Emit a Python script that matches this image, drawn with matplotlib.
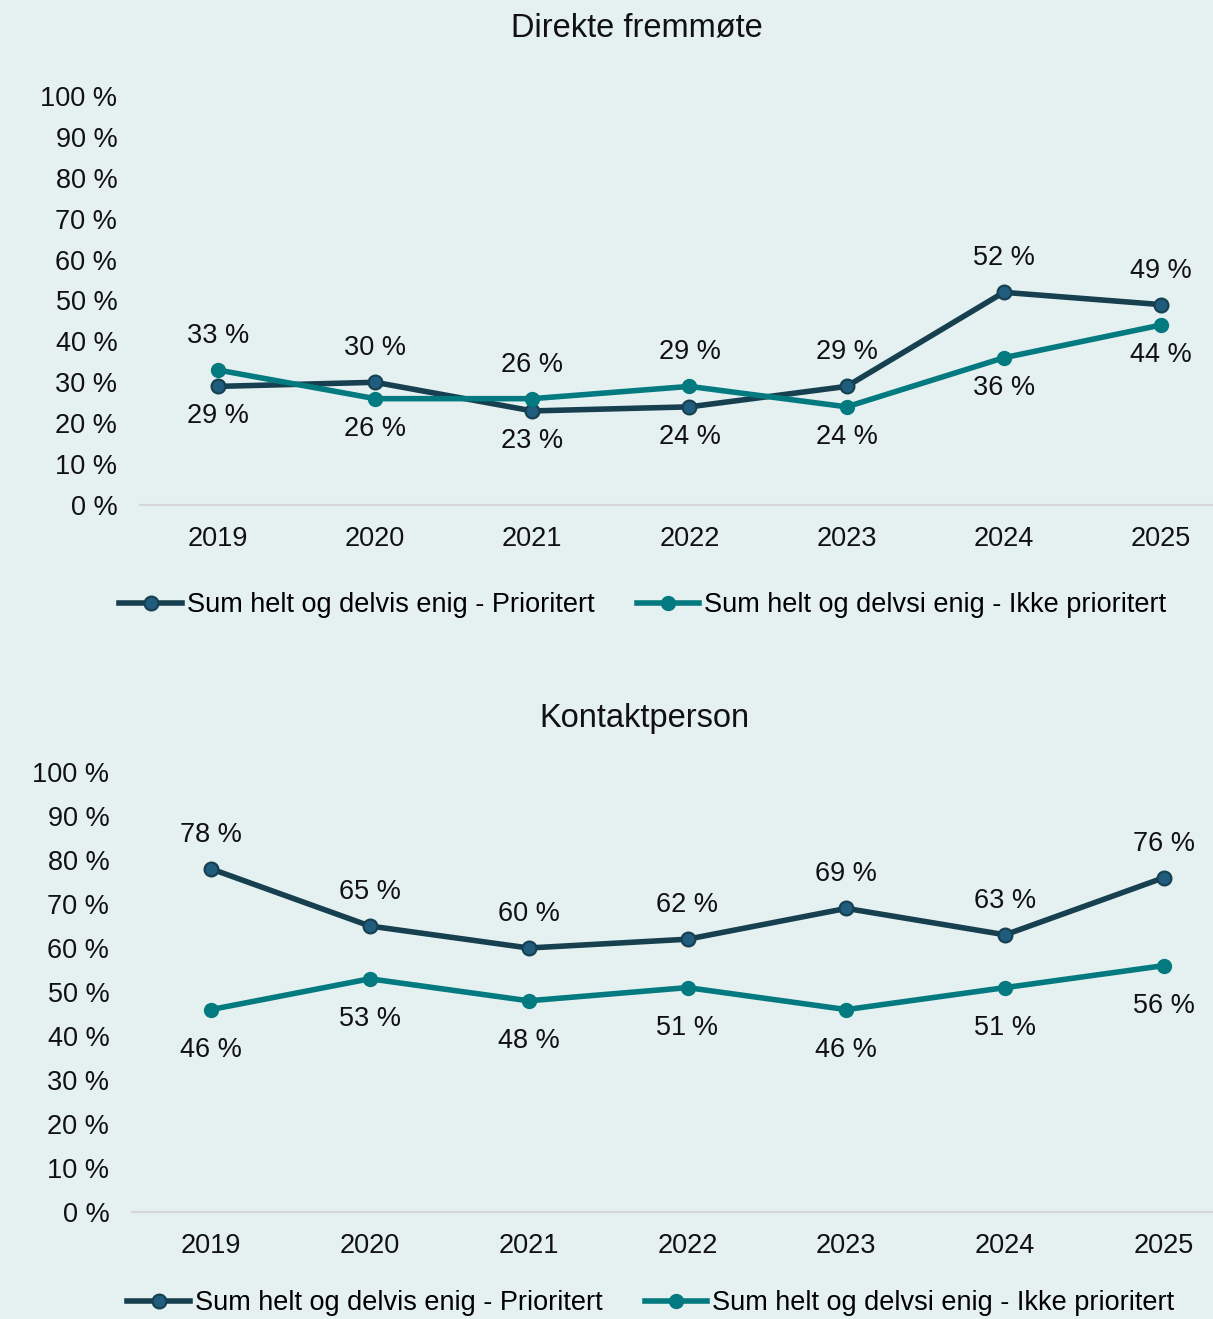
import matplotlib
matplotlib.use("Agg")
import matplotlib.pyplot as plt

plt.rcParams['font.family'] = ['Liberation Sans', 'DejaVu Sans']

years = ['2019', '2020', '2021', '2022', '2023', '2024', '2025']
yticks = [0, 10, 20, 30, 40, 50, 60, 70, 80, 90, 100]
name_prio = 'Sum helt og delvis enig - Prioritert'
name_ikke = 'Sum helt og delvsi enig - Ikke prioritert'

# Direkte fremmøte
direkte_prio = [29, 30, 23, 24, 29, 52, 49]
direkte_ikke = [33, 26, 26, 29, 24, 36, 44]

# Kontaktperson
kontakt_prio = [78, 65, 60, 62, 69, 63, 76]
kontakt_ikke = [46, 53, 48, 51, 46, 51, 56]

bg = '#E5F0F0'
dark = '#163F4F'
dark_face = '#1F5C7E'
teal = '#037A80'
fs = 19.5

fig = plt.figure(figsize=(12.13, 13.19), dpi=100, facecolor=bg)


def panel(rect, title, title_xy, prio, ikke, legend_y, legend_x, up, down):
    ax = fig.add_axes(rect)
    ax.set_facecolor(bg)
    x = list(range(len(years)))
    ax.plot(x, prio, color=dark, lw=4, marker='o', ms=10,
            mfc=dark_face, mec=dark, mew=1.5, label=name_prio, zorder=3)
    ax.plot(x, ikke, color=teal, lw=4, marker='o', ms=10,
            mfc=teal, mec=teal, label=name_ikke, zorder=3)
    # label above the higher series, below the lower one
    for i in x:
        for v, other in ((prio[i], ikke[i]), (ikke[i], prio[i])):
            off = up if v >= other else -down
            ax.annotate(f'{v} %', (i, v), xytext=(0, off),
                        textcoords='offset pixels', ha='center',
                        va='center', fontsize=fs, color='#111111')
    ax.set_xlim(-0.5, len(years) - 0.5)
    ax.set_ylim(0, 100)
    ax.set_xticks(x)
    ax.set_xticklabels(years)
    ax.set_yticks(yticks)
    ax.set_yticklabels([f'{t} %' for t in yticks])
    ax.tick_params(axis='both', length=0, labelsize=fs, colors='#111111')
    ax.tick_params(axis='y', pad=16)
    ax.tick_params(axis='x', pad=15)
    for s in ('top', 'right', 'left'):
        ax.spines[s].set_visible(False)
    ax.spines['bottom'].set_color('#D6D6D6')
    ax.spines['bottom'].set_linewidth(1.5)
    fig.text(title_xy[0], title_xy[1], title, ha='center', va='center',
             fontsize=23.5, color='#111111')
    ax.legend(loc='center', bbox_to_anchor=(legend_x, legend_y),
              bbox_transform=fig.transFigure, ncol=2, frameon=False,
              fontsize=fs, handlelength=2.3, handletextpad=0.2,
              columnspacing=1.55)
    return ax


W, H = 1213, 1319
panel([139.5 / W, 1 - 505 / H, 1100 / W, 409 / H], 'Direkte fremmøte',
      (637 / W, 1 - 28 / H), direkte_prio, direkte_ikke,
      1 - 605 / H, 643 / W, 34, 30)
panel([131.5 / W, 1 - 1212 / H, 1112 / W, 440 / H], 'Kontaktperson',
      (644 / W, 1 - 718 / H), kontakt_prio, kontakt_ikke,
      1 - 1303 / H, 651 / W, 34, 40)

fig.savefig('out.png', dpi=100, facecolor=bg)
